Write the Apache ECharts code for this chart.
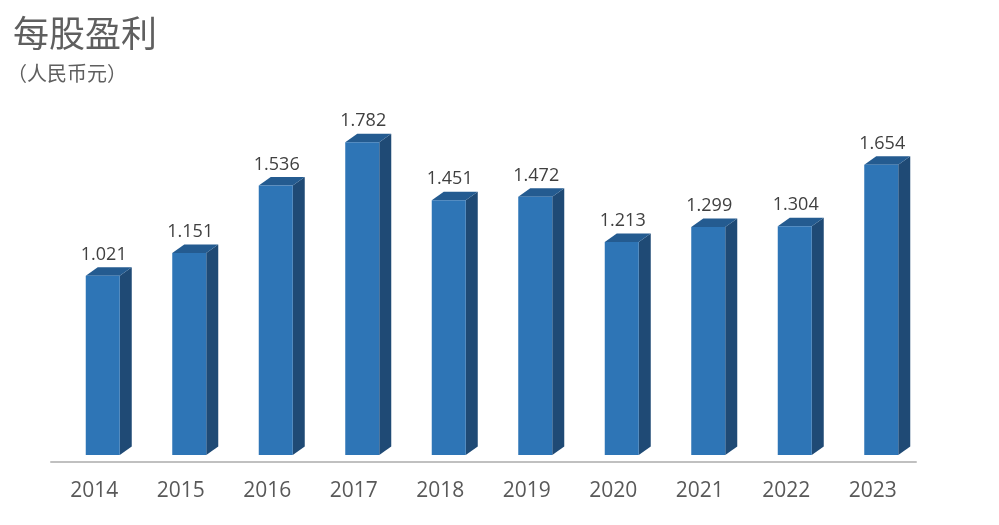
<!DOCTYPE html>
<html>
<head>
<meta charset="utf-8">
<script src="https://cdn.jsdelivr.net/npm/echarts@6/dist/echarts.min.js"></script>
<style>
	html, body { margin: 0; padding: 0; background: #fff; }
	#eps { width: 999px; height: 525px; }
</style>
</head>
<body>
<div id="eps"></div>
<script>
let years = ["2014", "2015", "2016", "2017", "2018", "2019", "2020", "2021", "2022", "2023"];
let eps = [1.021, 1.151, 1.536, 1.782, 1.451, 1.472, 1.213, 1.299, 1.304, 1.654];

function epsChart() {
	let dom = document.getElementById("eps");
	let myChart = echarts.init(dom, null, { renderer: "canvas" });

	// 3D column: front face + top + right side
	function renderBar(params, api) {
		let idx = api.value(0);
		let val = api.value(1);
		let top = api.coord([idx, val]);
		let base = api.coord([idx, 0]);
		let w = 34, dx = 12, dy = 8.5;
		let x0 = top[0] - 8.5;
		let x1 = x0 + w;
		let yT = top[1], yB = base[1];
		return {
			type: "group",
			children: [
				{
					type: "polygon",
					shape: { points: [[x1, yT], [x1 + dx, yT - dy], [x1 + dx, yB - dy], [x1, yB]] },
					style: { fill: "#1F4A75" },
				},
				{
					type: "polygon",
					shape: { points: [[x0, yT], [x0 + dx, yT - dy], [x1 + dx, yT - dy], [x1, yT]] },
					style: { fill: "#245B90" },
				},
				{
					type: "rect",
					shape: { x: x0, y: yT, width: w, height: yB - yT },
					style: { fill: "#2E75B6" },
				},
				{
					type: "text",
					style: {
						x: x0 + w / 2 + 1,
						y: yT - 21,
						text: val.toFixed(3),
						fill: "#404040",
						font: "18px 'Open Sans'",
						align: "center",
						verticalAlign: "middle",
					},
				},
			],
		};
	}

	let option = {
		title: [
			{
				text: "每股盈利",
				left: 8,
				top: 10,
				textStyle: { fontFamily: "Noto Sans CJK SC", fontSize: 36, fontWeight: "normal", color: "#5f5f5f" },
			},
			{
				text: "（人民币元）",
				left: 2,
				top: 58,
				textStyle: { fontFamily: "Noto Sans CJK SC", fontSize: 20, fontWeight: "normal", color: "#5f5f5f" },
			},
		],
		grid: { left: 51, right: 83, top: 104, bottom: 63 },
		xAxis: {
			type: "category",
			data: years,
			boundaryGap: true,
			axisLine: { onZero: false, lineStyle: { color: "#C0C0C0", width: 2 } },
			axisTick: { show: false },
			axisLabel: { color: "#595959", fontSize: 21, fontFamily: "Open Sans", margin: 19 },
		},
		yAxis: {
			type: "value",
			min: -0.04,
			max: 2,
			show: false,
			splitLine: { show: false },
		},
		series: [
			{
				type: "custom",
				renderItem: renderBar,
				encode: { x: 0, y: 1 },
				data: eps.map((v, i) => [i, v]),
			},
		],
		animation: false,
	};

	myChart.setOption(option);
	window.addEventListener("resize", myChart.resize);
}

epsChart();
</script>
</body>
</html>
